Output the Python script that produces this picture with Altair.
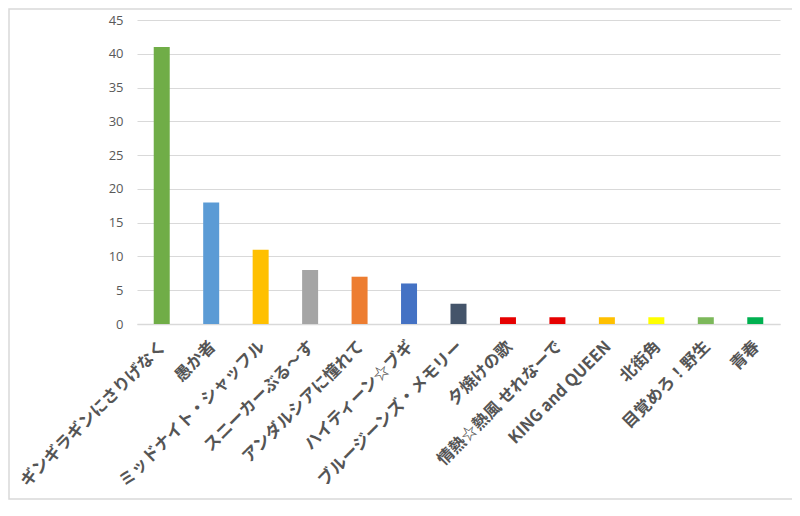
import altair as alt
import pandas as pd

songs = ["ギンギラギンにさりげなく", "愚か者", "ミッドナイト・シャッフル", "スニーカーぶる〜す",
         "アンダルシアに憧れて", "ハイティーン☆ブギ", "ブルージーンズ・メモリー", "夕焼けの歌",
         "情熱☆熱風 せれなーで", "KING and QUEEN", "北街角", "目覚めろ！野生", "青春"]
votes = [41, 18, 11, 8, 7, 6, 3, 1, 1, 1, 1, 1, 1]
colors = ["#70AD47", "#5B9BD5", "#FFC000", "#A5A5A5", "#ED7D31", "#4472C4", "#44546A",
          "#E60000", "#E60000", "#FFC000", "#FFFF00", "#7CB85A", "#00B050"]
y_ticks = [0, 5, 10, 15, 20, 25, 30, 35, 40, 45]

df = pd.DataFrame({"song": songs, "votes": votes})

bars = alt.Chart(df).mark_bar(size=16).encode(
    x=alt.X("song:N", sort=songs, title=None,
            scale=alt.Scale(paddingInner=0, paddingOuter=0),
            axis=alt.Axis(labelAngle=-45, labelFont="Noto Sans CJK JP", labelFontSize=16.5,
                          labelFontWeight="bold", labelOffset=-4,
                          labelColor="#555555", labelLimit=0, labelPadding=14,
                          ticks=False, domainColor="#D9D9D9", domainWidth=1.5, grid=False)),
    y=alt.Y("votes:Q", title=None, scale=alt.Scale(domain=[0, 45], nice=False),
            axis=alt.Axis(values=y_ticks, labelFont="Open Sans", labelFontSize=13,
                          labelColor="#595959", labelPadding=14, ticks=False, domain=False,
                          grid=True, gridColor="#D9D9D9")),
    color=alt.Color("song:N", scale=alt.Scale(domain=songs, range=colors), legend=None),
)

frame = alt.Chart(pd.DataFrame({"f": [0]})).mark_rect(filled=False, stroke="#D9D9D9", strokeWidth=1.5).encode(
    x=alt.value(-128), x2=alt.value(658), y=alt.value(-11), y2=alt.value(479)
)

chart = alt.layer(bars, frame).properties(
    width=643, height=304,
    autosize=alt.AutoSizeParams(type="none"),
    padding={"left": 129, "top": 12, "right": 12, "bottom": 176},
    background="white",
).configure_view(stroke=None)

chart.save("out.html", embed_options={"renderer": "svg", "actions": False})
